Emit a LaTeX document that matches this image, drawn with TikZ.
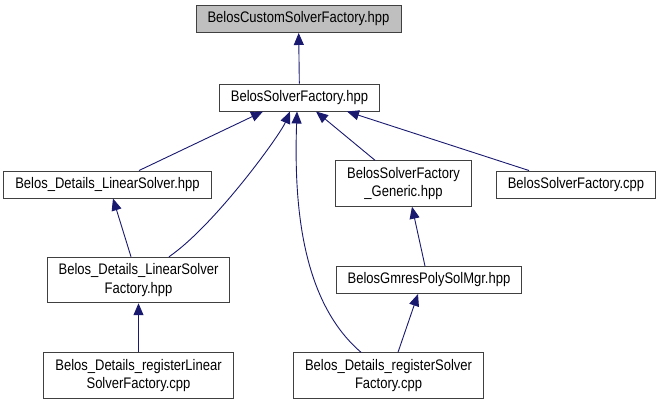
\documentclass[tikz,border=0pt]{standalone}
\usepackage{fontspec}
\setmainfont{Liberation Sans}[FakeStretch=0.85]
\usetikzlibrary{arrows.meta}
\definecolor{edgeblue}{RGB}{25,25,112}
\definecolor{boxgray}{RGB}{191,191,191}
\tikzstyle{file} = [rectangle, inner xsep=11.5pt, inner ysep=6.4pt, minimum height=27pt, align=center, draw=black!75, line width=0.9pt, fill=white, font=\fontsize{15.3}{18.5}\selectfont]
\tikzstyle{current} = [file, fill=boxgray]
\tikzstyle{arrow} = [edgeblue, line width=0.9pt, -{Triangle[length=12pt,width=10pt]}]

\begin{document}
\begin{tikzpicture}[x=1pt, y=-1pt, node distance=87pt]
		\useasboundingbox (0,0) rectangle (661,405);
		\node (custom) [current] at (298.5,19) {BelosCustomSolverFactory.hpp};
		
		\node (sf) [file, below of=custom, xshift=1pt, yshift=8.5pt] {BelosSolverFactory.hpp};
		
		\node (dls) [file, below of=sf, xshift=-192pt] {Belos\_Details\_LinearSolver.hpp};
		\node (gen) [file, below of=sf, xshift=104pt, yshift=1pt] {BelosSolverFactory\\\_Generic.hpp};
		\node (sfcpp) [file, below of=sf, xshift=276.5pt] {BelosSolverFactory.cpp};
		
		\node (dlsf) [file, below of=dls, xshift=31pt, yshift=-8.5pt] {Belos\_Details\_LinearSolver\\Factory.hpp};
		\node (gmres) [file, below of=gen, xshift=25.5pt, yshift=-9.5pt] {BelosGmresPolySolMgr.hpp};
		
		\node (rlsf) [file, below of=dlsf, yshift=-8.5pt] {Belos\_Details\_registerLinear\\SolverFactory.cpp};
		\node (rsf) [file, below of=gmres, xshift=-40.5pt, yshift=-8.5pt] {Belos\_Details\_registerSolver\\Factory.cpp};
		
		
		\draw [arrow] (sf) -- (custom);
		\draw [arrow] ([xshift=31.5pt]dls.north) -- ([xshift=-36.5pt]sf.south);
		\draw [arrow] ([xshift=30.5pt]dlsf.north) .. controls (215,225) and (280,135) .. ([xshift=-9.5pt]sf.south);
		\draw [arrow] ([xshift=-27.5pt]rsf.north) .. controls (300,300) and (294,200) .. ([xshift=-2.5pt]sf.south);
		\draw [arrow] ([xshift=-28.5pt]gen.north) -- ([xshift=16.5pt]sf.south);
		\draw [arrow] ([xshift=-47pt]sfcpp.north) -- ([xshift=47.5pt]sf.south);
		
		\draw [arrow] ([xshift=-7.5pt]dlsf.north) -- ([xshift=5.5pt]dls.south);
		\draw [arrow] (rlsf) -- (dlsf);
		\draw [arrow] ([xshift=-4pt]gmres.north) -- ([xshift=8.5pt]gen.south);
		\draw [arrow] ([xshift=9.5pt]rsf.north) -- ([xshift=-11pt]gmres.south);
		
\end{tikzpicture}
\end{document}
